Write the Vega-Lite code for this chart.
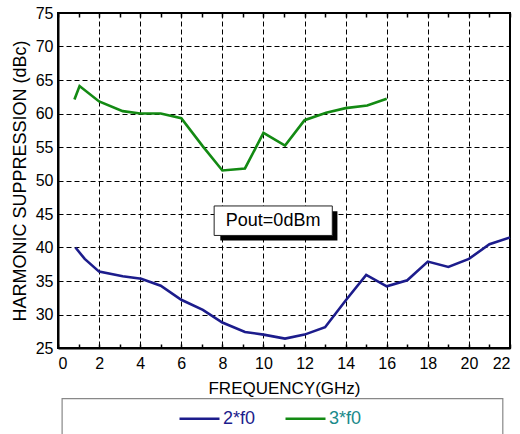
{
  "$schema": "https://vega.github.io/schema/vega-lite/v6.json",
  "width": 452,
  "height": 335,
  "autosize": {"type": "none"},
  "padding": {"left": 58, "top": 13, "right": 10, "bottom": 86},
  "background": "white",
  "config": {
    "font": "Liberation Sans",
    "view": {"stroke": "black", "strokeWidth": 2},
    "axis": {
      "labelFont": "Liberation Sans",
      "titleFont": "Liberation Sans",
      "labelColor": "black",
      "titleColor": "black",
      "labelFontSize": 16,
      "titleFontSize": 17,
      "titleFontWeight": "normal",
      "domainColor": "black",
      "domainWidth": 2,
      "gridColor": "black",
      "gridDash": [5, 3],
      "gridOpacity": 1,
      "gridWidth": 1,
      "tickColor": "black",
      "tickWidth": 1.5
    }
  },
  "resolve": {"axis": {"x": "independent", "y": "independent"}},
  "layer": [
    {
      "data": {
        "values": [
          {"freq": 0.85, "val": 40.0, "series": "2*f0"},
          {"freq": 1.3, "val": 38.3, "series": "2*f0"},
          {"freq": 2.0, "val": 36.4, "series": "2*f0"},
          {"freq": 3.15, "val": 35.7, "series": "2*f0"},
          {"freq": 4.05, "val": 35.35, "series": "2*f0"},
          {"freq": 5.0, "val": 34.3, "series": "2*f0"},
          {"freq": 6.0, "val": 32.2, "series": "2*f0"},
          {"freq": 7.05, "val": 30.7, "series": "2*f0"},
          {"freq": 8.0, "val": 28.8, "series": "2*f0"},
          {"freq": 9.1, "val": 27.4, "series": "2*f0"},
          {"freq": 10.0, "val": 27.0, "series": "2*f0"},
          {"freq": 11.05, "val": 26.4, "series": "2*f0"},
          {"freq": 12.0, "val": 27.0, "series": "2*f0"},
          {"freq": 13.0, "val": 28.1, "series": "2*f0"},
          {"freq": 14.0, "val": 32.1, "series": "2*f0"},
          {"freq": 15.0, "val": 35.9, "series": "2*f0"},
          {"freq": 16.0, "val": 34.2, "series": "2*f0"},
          {"freq": 17.0, "val": 35.1, "series": "2*f0"},
          {"freq": 18.0, "val": 37.9, "series": "2*f0"},
          {"freq": 19.0, "val": 37.1, "series": "2*f0"},
          {"freq": 20.0, "val": 38.3, "series": "2*f0"},
          {"freq": 21.0, "val": 40.5, "series": "2*f0"},
          {"freq": 22.0, "val": 41.5, "series": "2*f0"},
          {"freq": 0.8, "val": 62.1, "series": "3*f0"},
          {"freq": 1.05, "val": 64.1, "series": "3*f0"},
          {"freq": 2.0, "val": 61.8, "series": "3*f0"},
          {"freq": 3.15, "val": 60.35, "series": "3*f0"},
          {"freq": 4.0, "val": 60.0, "series": "3*f0"},
          {"freq": 5.0, "val": 60.0, "series": "3*f0"},
          {"freq": 6.0, "val": 59.3, "series": "3*f0"},
          {"freq": 7.05, "val": 55.1, "series": "3*f0"},
          {"freq": 8.0, "val": 51.5, "series": "3*f0"},
          {"freq": 9.1, "val": 51.8, "series": "3*f0"},
          {"freq": 10.0, "val": 57.1, "series": "3*f0"},
          {"freq": 11.05, "val": 55.2, "series": "3*f0"},
          {"freq": 12.0, "val": 59.0, "series": "3*f0"},
          {"freq": 13.05, "val": 60.1, "series": "3*f0"},
          {"freq": 14.0, "val": 60.8, "series": "3*f0"},
          {"freq": 15.05, "val": 61.2, "series": "3*f0"},
          {"freq": 16.0, "val": 62.2, "series": "3*f0"}
        ]
      },
      "mark": {"type": "line", "strokeWidth": 2.6},
      "encoding": {
        "x": {
          "field": "freq",
          "type": "quantitative",
          "scale": {"domain": [0, 22], "nice": false, "zero": false},
          "axis": {
            "values": [0,1,2,3,4,5,6,7,8,9,10,11,12,13,14,15,16,17,18,19,20,21,22],
            "labelExpr": "datum.value % 2 === 0 ? datum.label : ''",
            "gridOpacity": {"condition": {"test": "datum.value % 2 === 1", "value": 0}, "value": 1},
            "tickSize": -4,
            "labelPadding": 11,
            "title": "FREQUENCY(GHz)",
            "titlePadding": 9
          }
        },
        "y": {
          "field": "val",
          "type": "quantitative",
          "scale": {"domain": [25, 75], "nice": false, "zero": false},
          "axis": {
            "values": [25, 30, 35, 40, 45, 50, 55, 60, 65, 70, 75],
            "tickSize": 0,
            "labelPadding": 5,
            "title": "HARMONIC SUPPRESSION (dBc)",
            "titleFontSize": 18,
            "titlePadding": 6
          }
        },
        "color": {
          "field": "series",
          "type": "nominal",
          "scale": {"domain": ["2*f0", "3*f0"], "range": ["#1c1c8c", "#138a13"]},
          "legend": {
            "orient": "none",
            "legendX": 120,
            "legendY": 384,
            "direction": "horizontal",
            "title": null,
            "symbolType": "stroke",
            "symbolSize": 1600,
            "symbolStrokeWidth": 2.6,
            "labelFont": "Liberation Sans",
            "labelFontSize": 18,
            "labelOffset": 2,
            "columnPadding": 24,
            "padding": 0,
            "encode": {
              "labels": {
                "update": {
                  "fill": {"signal": "datum.value === '2*f0' ? '#1c1c8c' : '#1a8a8a'"}
                }
              }
            }
          }
        }
      }
    },
    {
      "data": {"values": [{"k": "legendbox"}]},
      "mark": {"type": "rect", "fill": "white", "fillOpacity": 0, "stroke": "#888888", "strokeWidth": 1.2, "clip": false},
      "encoding": {
        "x": {"datum": 0.2, "type": "quantitative", "axis": null},
        "x2": {"datum": 21.65},
        "y": {"datum": 17.45, "type": "quantitative", "axis": null},
        "y2": {"datum": 8}
      }
    },
    {
      "data": {"values": [{"k": "shadow"}]},
      "mark": {"type": "rect", "fill": "black"},
      "encoding": {
        "x": {
          "datum": 7.9,
          "type": "quantitative",
          "axis": {
            "orient": "top",
            "values": [0,1,2,3,4,5,6,7,8,9,10,11,12,13,14,15,16,17,18,19,20,21,22],
            "labels": false,
            "title": null,
            "domain": false,
            "grid": false,
            "tickSize": -4
          }
        },
        "x2": {"datum": 13.6},
        "y": {"datum": 45.4, "type": "quantitative", "axis": null},
        "y2": {"datum": 41.05}
      }
    },
    {
      "data": {"values": [{"k": "box"}]},
      "mark": {"type": "rect", "fill": "white", "stroke": "#222222", "strokeWidth": 1},
      "encoding": {
        "x": {"datum": 7.6, "type": "quantitative", "axis": null},
        "x2": {"datum": 13.35},
        "y": {"datum": 46.2, "type": "quantitative", "axis": null},
        "y2": {"datum": 41.8}
      }
    },
    {
      "data": {"values": [{"label": "Pout=0dBm", "fx": 10.47, "fy": 44.0}]},
      "mark": {"type": "text", "fontSize": 18, "font": "Liberation Sans", "color": "black", "align": "center", "baseline": "middle"},
      "encoding": {
        "x": {"field": "fx", "type": "quantitative", "axis": null},
        "y": {"field": "fy", "type": "quantitative", "axis": null},
        "text": {"field": "label"}
      }
    }
  ]
}
